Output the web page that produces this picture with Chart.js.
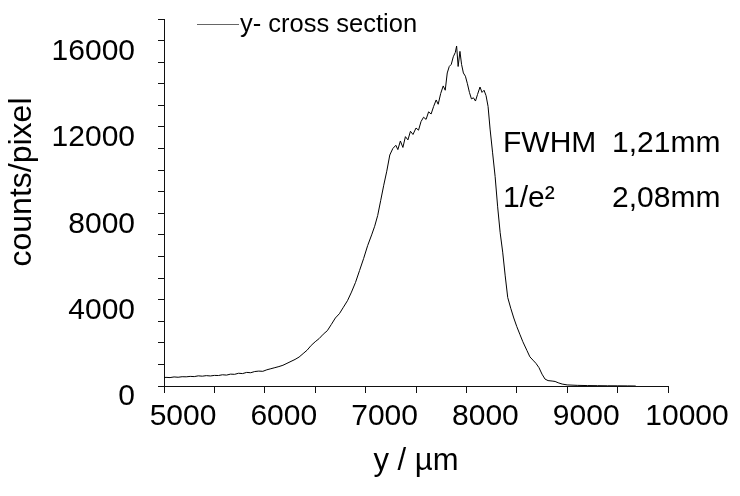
<!DOCTYPE html>
<html>
<head>
<meta charset="utf-8">
<title>y- cross section</title>
<script src="https://cdn.jsdelivr.net/npm/chart.js@4.4.1/dist/chart.umd.min.js"></script>
<style>
  html, body { margin: 0; padding: 0; background: #fff; }
  #wrap { width: 740px; height: 496px; }
</style>
</head>
<body>
<div id="wrap"><canvas id="profileChart"></canvas></div>
<script>
// beam profile, y cross section
const yPositions = [
  4980, 5020, 5060, 5100, 5140, 5180, 5220, 5260, 5300, 5340, 5380, 5420, 5460, 5500, 5540, 5580,
  5620, 5660, 5700, 5740, 5780, 5820, 5860, 5900, 5940, 5980, 6020, 6060, 6100, 6140, 6180, 6220,
  6260, 6300, 6340, 6380, 6420, 6460, 6500, 6540, 6580, 6620, 6660, 6700, 6740, 6780, 6820, 6860,
  6900, 6940, 6980, 7020, 7060, 7090, 7120, 7150, 7180, 7210, 7240, 7270, 7300, 7320, 7345, 7370,
  7395, 7420, 7445, 7470, 7500, 7525, 7550, 7575, 7600, 7625, 7650, 7675, 7700, 7720, 7745, 7770,
  7790, 7810, 7830, 7850, 7870, 7890, 7903, 7918, 7936, 7952, 7970, 7990, 8010, 8030, 8050, 8070,
  8090, 8110, 8135, 8155, 8175, 8195, 8215, 8235, 8260, 8285, 8310, 8335, 8360, 8385, 8410, 8440,
  8470, 8500, 8530, 8560, 8600, 8630, 8660, 8690, 8720, 8750, 8780, 8810, 8850, 8880, 8910, 8950,
  9000, 9100, 9200, 9300, 9400, 9500, 9600, 9680
];
const counts = [
  380, 400, 390, 420, 405, 430, 425, 445, 435, 470, 455, 480, 465, 490, 485, 520,
  505, 550, 540, 590, 575, 630, 615, 670, 690, 680, 750, 800, 850, 900, 960, 1050,
  1140, 1230, 1340, 1500, 1660, 1880, 2050, 2200, 2400, 2560, 2850, 3150, 3350, 3650, 3950, 4350,
  4800, 5350, 5900, 6500, 7000, 7400, 7900, 8600, 9300, 9950, 10700, 11000, 11150, 10950, 11350, 11050,
  11550, 11400, 11800, 11650, 11950, 11850, 12250, 12450, 12350, 12700, 12600, 12950, 13250, 13050, 13550, 13900,
  13700, 14500, 14800, 14900, 15250, 15450, 15750, 14800, 15500, 14900, 14500, 14350, 14000, 13600, 13300, 13350,
  13200, 13500, 13850, 13600, 13700, 13450, 12950, 11900, 10800, 9700, 8300, 7100, 6200, 5100, 4100, 3600,
  3150, 2750, 2400, 2050, 1650, 1350, 1200, 1050, 850, 550, 320, 250, 230, 210, 150, 90,
  50, 30, 20, 15, 10, 8, 5, 0
];

const xTickLabels = [5000, 6000, 7000, 8000, 9000, 10000];
const yTickLabels = [0, 4000, 8000, 12000, 16000];

const seriesName = 'y- cross section';
const resultNames = ['FWHM', '1/e\u00b2'];
const resultValues = ['1,21mm', '2,08mm'];

Chart.defaults.font.family = "'Liberation Sans', Arial, sans-serif";
Chart.defaults.font.size = 30;
Chart.defaults.color = '#000';

// legend line + FWHM text + rotated y title, drawn after the chart
const extrasPlugin = {
  id: 'extras',
  afterDraw(chart) {
    const ctx = chart.ctx;
    ctx.save();
    ctx.fillStyle = '#000';
    ctx.textBaseline = 'alphabetic';

    // legend
    ctx.strokeStyle = '#666';
    ctx.lineWidth = 1;
    ctx.beginPath();
    ctx.moveTo(197, 24.5);
    ctx.lineTo(239, 24.5);
    ctx.stroke();
    ctx.font = "25.5px 'Liberation Sans', Arial, sans-serif";
    ctx.fillText(seriesName, 240, 32);

    // widths
    ctx.font = "30px 'Liberation Sans', Arial, sans-serif";
    ctx.fillText(resultNames[0], 503, 152);
    ctx.fillText(resultValues[0], 612, 152);
    ctx.fillText(resultNames[1], 503, 207);
    ctx.fillText(resultValues[1], 612, 207);

    // y axis title
    ctx.translate(22, 182);
    ctx.rotate(-Math.PI / 2);
    ctx.textAlign = 'center';
    ctx.textBaseline = 'middle';
    ctx.font = "32px 'Liberation Sans', Arial, sans-serif";
    ctx.fillText('counts/pixel', 0, 0);
    ctx.restore();
  }
};

const ctx = document.getElementById('profileChart').getContext('2d');
const profileChart = new Chart(ctx, {
  type: 'line',
  data: {
    datasets: [{
      label: seriesName,
      data: yPositions.map((x, i) => ({ x: x, y: counts[i] })),
      borderColor: '#000',
      borderWidth: 1,
      pointRadius: 0,
      tension: 0,
      fill: false
    }]
  },
  options: {
    responsive: true,
    maintainAspectRatio: false,
    animation: false,
    layout: {
      padding: { left: 0, right: 72, top: 19, bottom: 0 }
    },
    plugins: {
      legend: { display: false },
      tooltip: { enabled: false }
    },
    scales: {
      x: {
        type: 'linear',
        min: 5000,
        max: 10000,
        afterFit: function(scale) { scale.height = 110; },
        border: { display: true, color: '#111', width: 1 },
        grid: { drawOnChartArea: false, drawTicks: true, tickLength: 7, color: '#111' },
        ticks: {
          stepSize: 500,
          autoSkip: false,
          maxRotation: 0,
          minRotation: 0,
          padding: 6,
          labelOffset: 19,
          callback: function(value) {
            return xTickLabels.includes(value) ? String(value) : '';
          }
        },
        title: {
          display: true,
          text: 'y / \u00b5m',
          font: { size: 31 },
          padding: { top: 0, bottom: 16 }
        }
      },
      y: {
        type: 'linear',
        min: 0,
        max: 17000,
        afterFit: function(scale) {
          scale.width = 164;
          scale.paddingTop = 0;
          scale.paddingBottom = 0;
        },
        border: { display: true, color: '#111', width: 1 },
        grid: { drawOnChartArea: false, drawTicks: true, tickLength: 6, color: '#111' },
        ticks: {
          stepSize: 1000,
          autoSkip: false,
          padding: 23,
          labelOffset: 11,
          callback: function(value) {
            return yTickLabels.includes(value) ? String(value) : '';
          }
        }
      }
    }
  },
  plugins: [extrasPlugin]
});
</script>
</body>
</html>
